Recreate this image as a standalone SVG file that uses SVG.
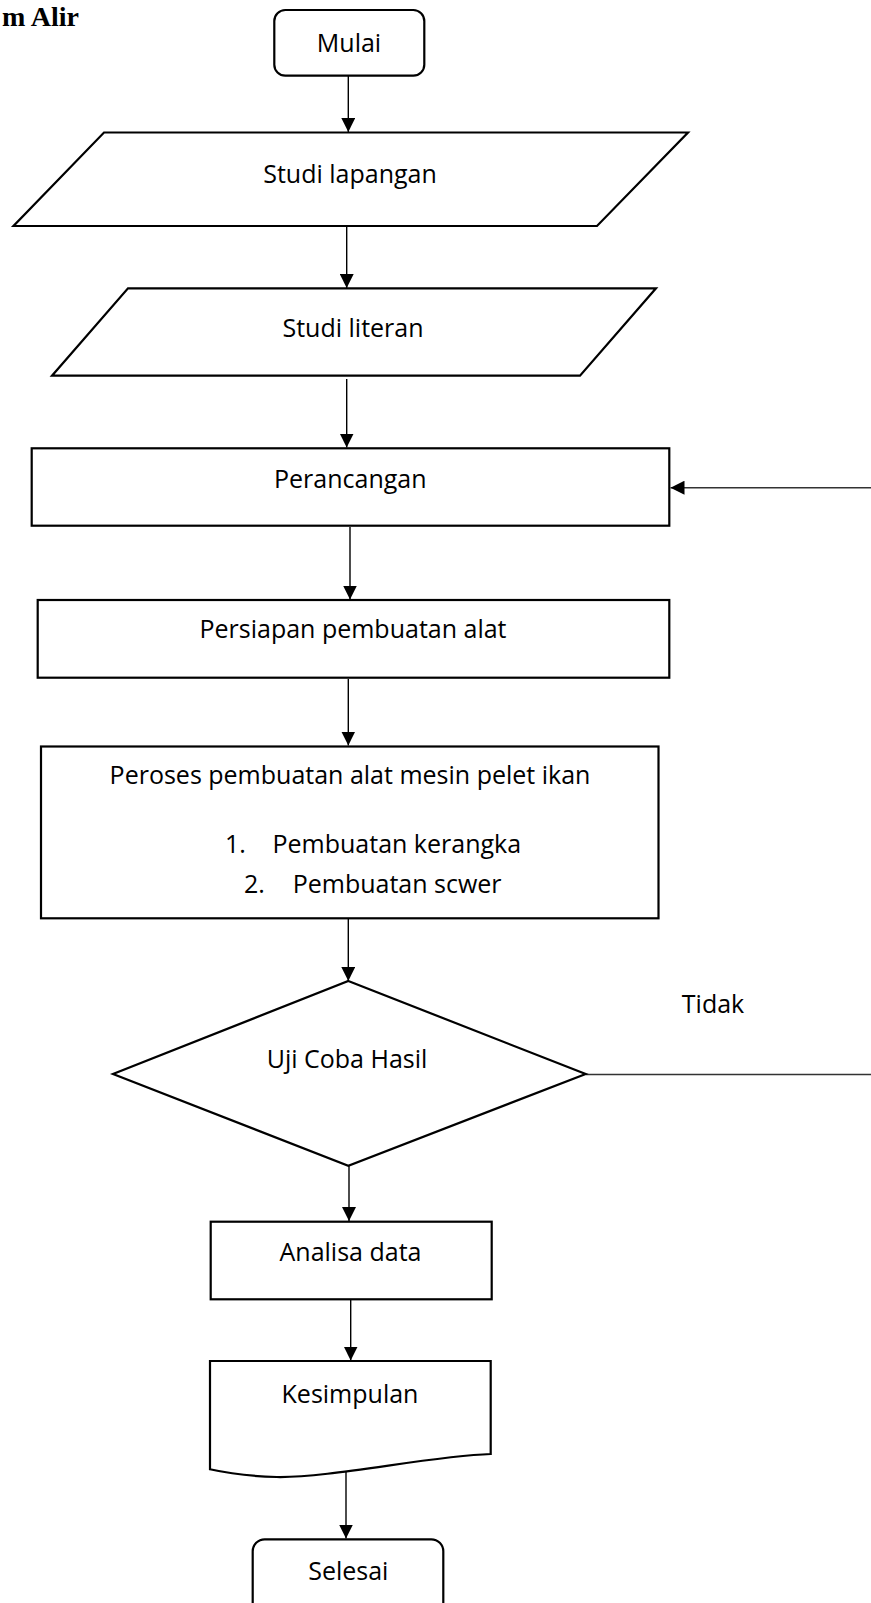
<svg xmlns="http://www.w3.org/2000/svg" width="871" height="1603" viewBox="0 0 871 1603">
<style>
.shape{fill:#fff;stroke:#000;stroke-width:2.2;stroke-linejoin:miter}
.conn{fill:none;stroke:#000;stroke-width:1.4}
.side{fill:none;stroke:#333;stroke-width:1.4}
.lbl{font-family:"Open Sans","Liberation Sans",sans-serif;font-size:25px;fill:#000}
.mid{text-anchor:middle}
.title{font-family:"Liberation Serif","Times New Roman",serif;font-size:28px;font-weight:bold;fill:#000}
</style>
<defs>
<marker id="arr" markerUnits="userSpaceOnUse" markerWidth="14" markerHeight="14" refX="14" refY="7" orient="auto">
<path d="M0,0 L14,7 L0,14 z" fill="#000"/>
</marker>
</defs>
<rect width="871" height="1603" fill="#fff"/>
<text class="title" x="2" y="26">m Alir</text>

<g id="connectors">
<line class="conn" x1="348.3" y1="76" x2="348.3" y2="132" marker-end="url(#arr)"/>
<line class="conn" x1="346.7" y1="227" x2="346.7" y2="288" marker-end="url(#arr)"/>
<line class="conn" x1="346.7" y1="379" x2="346.7" y2="447.5" marker-end="url(#arr)"/>
<line class="conn" x1="350" y1="527" x2="350" y2="599.5" marker-end="url(#arr)"/>
<line class="conn" x1="348.3" y1="679" x2="348.3" y2="745.5" marker-end="url(#arr)"/>
<line class="conn" x1="348.3" y1="919" x2="348.3" y2="981" marker-end="url(#arr)"/>
<line class="conn" x1="349" y1="1166" x2="349" y2="1221" marker-end="url(#arr)"/>
<line class="conn" x1="350.7" y1="1300" x2="350.7" y2="1360.5" marker-end="url(#arr)"/>
<line class="conn" x1="346" y1="1468" x2="346" y2="1538.5" marker-end="url(#arr)"/>
<line class="side" x1="871" y1="487.7" x2="670.5" y2="487.7" marker-end="url(#arr)"/>
<line class="side" x1="586" y1="1074.5" x2="871" y2="1074.5"/>
</g>

<g id="mulai">
<rect class="shape" x="274.3" y="10" width="150" height="65.7" rx="11"/>
<text class="lbl mid" x="349" y="51.7">Mulai</text>
</g>

<g id="studi-lapangan">
<polygon class="shape" points="104,132.5 688,132.5 597,226 13.5,226"/>
<text class="lbl mid" x="350" y="183">Studi lapangan</text>
</g>

<g id="studi-literan">
<polygon class="shape" points="128,288.3 656,288.3 580,375.7 52,375.7"/>
<text class="lbl mid" x="353" y="337.3">Studi literan</text>
</g>

<g id="perancangan">
<rect class="shape" x="31.7" y="448.3" width="637.6" height="77.4"/>
<text class="lbl mid" x="350.3" y="487.7">Perancangan</text>
</g>

<g id="persiapan">
<rect class="shape" x="37.7" y="600" width="631.6" height="77.7"/>
<text class="lbl mid" x="353" y="638.3">Persiapan pembuatan alat</text>
</g>

<g id="peroses">
<rect class="shape" x="41" y="746.5" width="617.5" height="171.8"/>
<text class="lbl mid" x="350" y="784">Peroses pembuatan alat mesin pelet ikan</text>
<text class="lbl" x="225" y="853.3">1.</text>
<text class="lbl" x="272.5" y="853.3">Pembuatan kerangka</text>
<text class="lbl" x="244" y="893.3">2.</text>
<text class="lbl" x="292.7" y="893.3">Pembuatan scwer</text>
</g>

<g id="uji-coba">
<polygon class="shape" points="348.3,981 585.7,1074 348.3,1165.7 113,1074"/>
<text class="lbl mid" x="347" y="1068.3">Uji Coba Hasil</text>
</g>

<g id="label-tidak">
<text class="lbl mid" x="713" y="1013.3">Tidak</text>
</g>

<g id="analisa">
<rect class="shape" x="210.7" y="1221.7" width="281" height="77.6"/>
<text class="lbl mid" x="350.5" y="1261">Analisa data</text>
</g>

<g id="kesimpulan">
<path class="shape" d="M210,1361 H490.7 V1454 C430,1456 330,1478 276.7,1477 Q240,1476 210,1469.3 Z"/>
<text class="lbl mid" x="350" y="1403.3">Kesimpulan</text>
</g>

<g id="selesai">
<rect class="shape" x="252.7" y="1539.3" width="190.6" height="90" rx="12"/>
<text class="lbl mid" x="348.3" y="1580">Selesai</text>
</g>
</svg>
